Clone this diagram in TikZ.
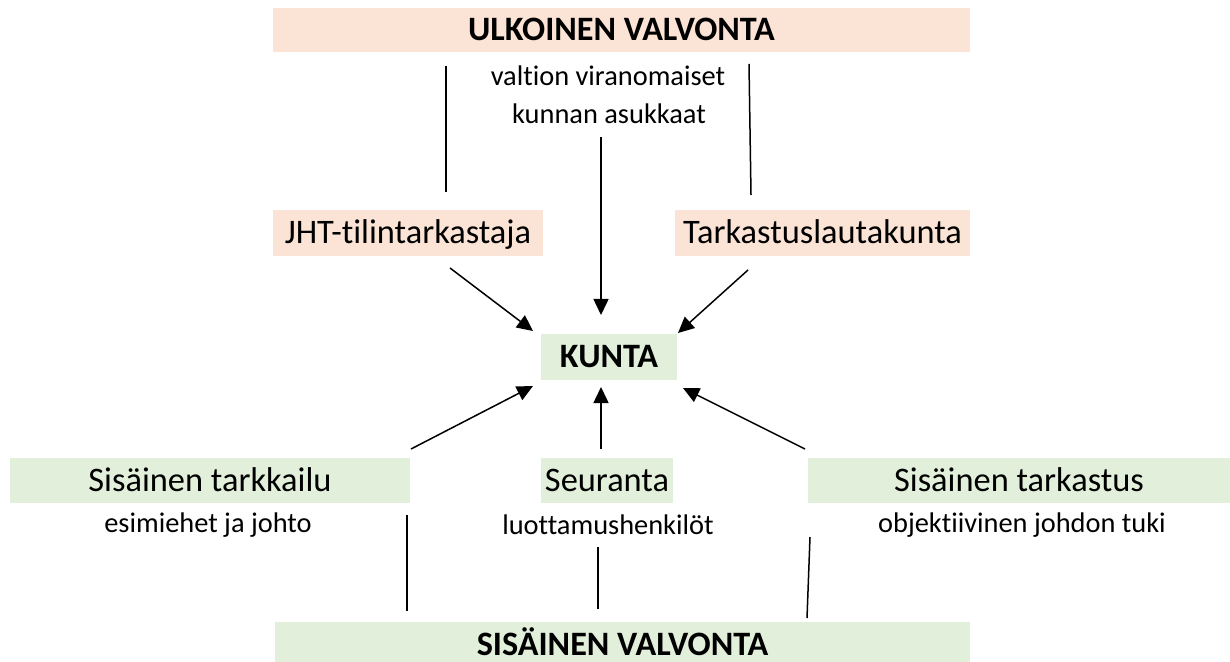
\documentclass[tikz,border=0pt]{standalone}
\usepackage{fontspec}
\setmainfont[Ligatures=NoCommon]{Carlito}
\usetikzlibrary{arrows.meta}
\definecolor{peachfill}{HTML}{FBE4D5}
\definecolor{greenfill}{HTML}{E2EFDA}

\begin{document}
\begin{tikzpicture}[x=0.5pt, y=-0.5pt, line width=0.75pt,
				box/.style = {inner sep = 0pt, text height = 13pt, text depth = 2.5pt,
				font = \fontsize{17.2}{20}\selectfont},
				title/.style = {box, font = \fontsize{17.1}{20}\selectfont\bfseries},
				ext/.style = {fill = peachfill},
				int/.style = {fill = greenfill},
				sub/.style = {inner sep = 0pt, font = \fontsize{14.2}{17}\selectfont},
				arr/.style = {-{Triangle[length=8pt, width=7.5pt]}}]

				\useasboundingbox (0,0) rectangle (1230,662);

				\node [title, ext, minimum width = 348.5pt, minimum height = 22pt] (ulk) at (621.5,30) {ULKOINEN VALVONTA};
				\node [sub] (val) at (608,76) {valtion viranomaiset};
				\node [sub] (asu) at (609,114) {kunnan asukkaat};

				\node [box, ext, minimum width = 135pt, minimum height = 23pt] (jht) at (408,233) {JHT-tilintarkastaja};
				\node [box, ext, minimum width = 147.5pt, minimum height = 23pt] (tlk) at (822.5,233) {Tarkastuslautakunta};

				\node [title, int, minimum width = 68pt, minimum height = 23pt] (kunta) at (609,357) {KUNTA};

				\node [box, int, minimum width = 200pt, minimum height = 22.5pt] (tark) at (210,480.5) {Sisäinen tarkkailu};
				\node [box, int, minimum width = 66pt, minimum height = 22.5pt] (seur) at (607,480.5) {Seuranta};
				\node [box, int, minimum width = 211pt, minimum height = 22.5pt] (tast) at (1019,480.5) {Sisäinen tarkastus};
				\node [sub] (esi) at (208,525) {esimiehet ja johto};
				\node [sub] (luo) at (608,525) {luottamushenkilöt};
				\node [sub] (obj) at (1022,525) {objektiivinen johdon tuki};

				\node [title, int, minimum width = 347.5pt, minimum height = 23pt] (sis) at (622.5,645) {SISÄINEN VALVONTA};

				% ulkoinen valvonta
				\coordinate (u1) at (446,66);   \coordinate (u2) at (446,192);
				\coordinate (u3) at (749,64);   \coordinate (u4) at (751,195);
				\coordinate (u5) at (601,137);  \coordinate (u6) at (601,315);
				\coordinate (j1) at (450,268);  \coordinate (j2) at (533,331);
				\coordinate (t1) at (748,270);  \coordinate (t2) at (678,333);
				\draw (u1) -- (u2);
				\draw (u3) -- (u4);
				\draw [arr] (u5) -- (u6);
				\draw [arr] (j1) -- (j2);
				\draw [arr] (t1) -- (t2);

				% sisainen valvonta
				\coordinate (s1) at (411,449);  \coordinate (s2) at (533,386);
				\coordinate (s3) at (601,449);  \coordinate (s4) at (601,387);
				\coordinate (s5) at (805,449);  \coordinate (s6) at (683,388);
				\coordinate (v1) at (407,515);  \coordinate (v2) at (407,611);
				\coordinate (v3) at (598,547);  \coordinate (v4) at (598,609);
				\coordinate (v5) at (810,537);  \coordinate (v6) at (807,618);
				\draw [arr] (s1) -- (s2);
				\draw [arr] (s3) -- (s4);
				\draw [arr] (s5) -- (s6);
				\draw (v1) -- (v2);
				\draw (v3) -- (v4);
				\draw (v5) -- (v6);
\end{tikzpicture}
\end{document}
